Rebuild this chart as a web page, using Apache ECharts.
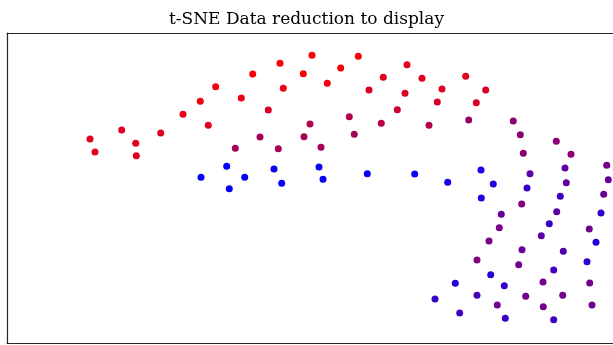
<!DOCTYPE html>
<html>
<head>
<meta charset="utf-8">
<script src="https://cdn.jsdelivr.net/npm/echarts@6/dist/echarts.min.js"></script>
<style>
html,body{margin:0;padding:0;background:#fff;}
#chart{width:613px;height:345px;}
</style>
</head>
<body>
<div id="chart"></div>
<script>
// embedding coordinates (arbitrary t-SNE units) and colour value (0 = blue, 1 = red)
const xs = [245.7,208.7,234.3,193.3,176,201.3,114.7,153.7,83,128.7,88,129.3,
  305,351.3,273,400,296.3,333.7,376.3,415,276.3,320.3,362,398,435,430.3,261.3,390.3,
  342.3,303,374.3,422,253,297,347.3,271.3,314,228.3,458.7,478.7,469.3,461.7,506.3,513.3,549.3,516.3,564,
  219.7,194,237.7,222.3,267,312,274.7,316,360.3,407.7,440.7,
  474,523,558,599.7,486.3,520,559.3,601.3,474.3,553.3,596.7,514.7,494.3,549.7,594,492.3,542.3,534.3,582.3,
  482,589,515,556.3,470,511.7,580,546.7,483.7,448.3,497.3,536,582.7,428,470,518.7,555.7,490.3,536.3,585,452.7,498.3,546.7];
const ys = [269,256.3,245,241.7,228.7,217.7,213,210,204,199.7,191,187.3,
  287.7,286.7,279.7,278.3,269.3,275,265.7,264.7,254.7,259.7,253,249.7,254,241,233,233.3,
  226.3,219,219.7,217.7,206,206.3,208.7,194.3,195.7,194.7,266.7,253,240.3,223,222,208.3,201.7,189.7,188.7,
  176.7,165.7,165.7,154.3,174,176,159.7,163.7,169.3,169,160.7,
  173,169.3,175,177.7,159,155,160.3,163.3,145,146.7,148.7,139,128.7,131.3,130,115.3,119.3,107.3,114,
  102,100.7,93.3,91.7,83,78.3,81.3,73,68.3,59.7,57.3,61,60,44,47.7,46.7,47.7,38,36.3,38,30,24.7,23.3];
const cs = [0.97,0.95,0.92,0.95,0.9,0.88,0.88,0.88,0.88,0.88,0.88,0.88,
  0.98,0.97,0.98,0.9,0.98,0.97,0.87,0.88,0.95,0.95,0.85,0.85,0.87,0.85,0.85,0.8,
  0.7,0.7,0.72,0.7,0.65,0.65,0.65,0.65,0.65,0.65,0.88,0.85,0.85,0.6,0.57,0.55,0.55,0.55,0.55,
  0.02,0.02,0.02,0.02,0.03,0.03,0.03,0.03,0.05,0.05,0.08,
  0.1,0.35,0.38,0.48,0.12,0.22,0.38,0.38,0.12,0.25,0.4,0.5,0.4,0.35,0.2,0.48,0.2,0.35,0.45,
  0.48,0.16,0.42,0.32,0.5,0.45,0.18,0.26,0.16,0.15,0.2,0.45,0.45,0.22,0.28,0.45,0.45,0.45,0.45,0.45,0.25,0.22,0.23];

const data = xs.map((x, i) => [x, ys[i], cs[i]]);

const frameLine = {show: true, onZero: false, lineStyle: {color: '#262626', width: 1.2}};
const chart = echarts.init(document.getElementById('chart'), null, {renderer: 'canvas'});
chart.setOption({
  animation: false,
  backgroundColor: '#ffffff',
  title: {
    text: 't-SNE Data reduction to display',
    left: 'center',
    top: 6,
    textStyle: {fontFamily: 'DejaVu Serif', fontSize: 17, fontWeight: 'normal', color: '#000'}
  },
  grid: {left: 7, top: 33, width: 606, height: 310, show: false},
  xAxis: [
    {type: 'value', min: 0, max: 606, position: 'bottom', axisLine: frameLine, axisTick: {show: false}, axisLabel: {show: false}, splitLine: {show: false}},
    {type: 'value', min: 0, max: 606, position: 'top', axisLine: frameLine, axisTick: {show: false}, axisLabel: {show: false}, splitLine: {show: false}}
  ],
  yAxis: {type: 'value', min: 0, max: 310, position: 'left', axisLine: frameLine, axisTick: {show: false}, axisLabel: {show: false}, splitLine: {show: false}},
  visualMap: {show: false, dimension: 2, min: 0, max: 1, inRange: {color: ['#0000ff', '#ff0000']}},
  series: [{
    type: 'scatter',
    xAxisIndex: 0,
    symbolSize: 7,
    data: data,
    itemStyle: {opacity: 1}
  }]
});
</script>
</body>
</html>
